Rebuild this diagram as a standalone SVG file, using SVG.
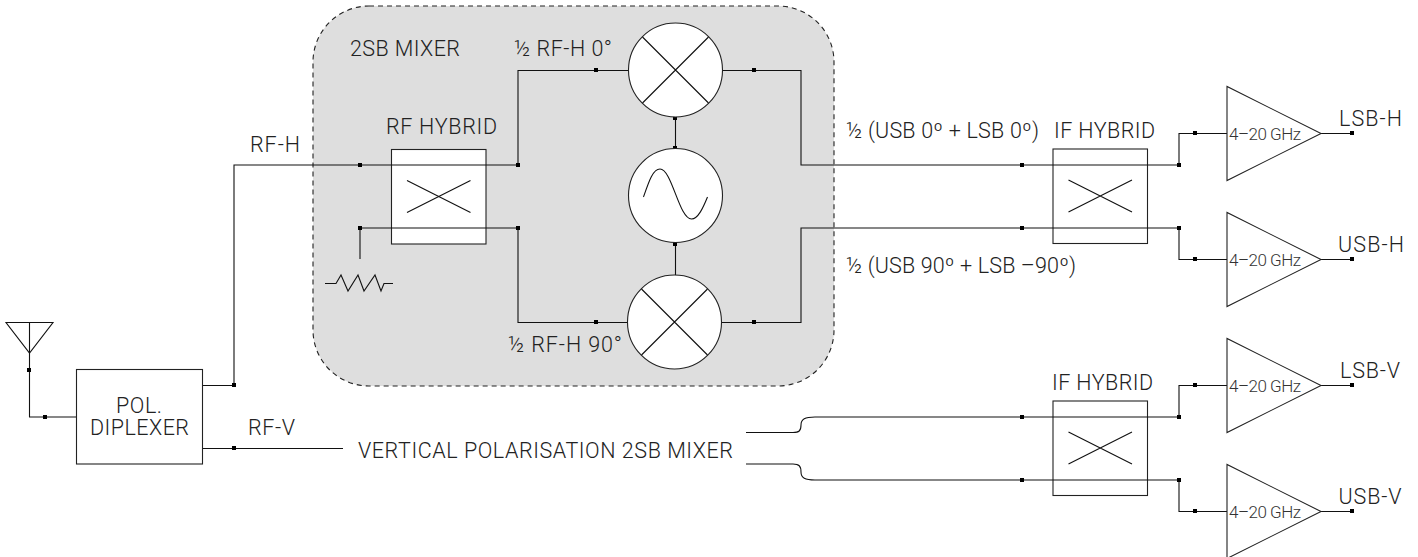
<svg xmlns="http://www.w3.org/2000/svg" width="1418" height="557" viewBox="0 0 1418 557">
<style>
.l{fill:none;stroke:#111;stroke-width:1.1}
.n{fill:#fff;stroke:#222;stroke-width:1.1}
.o{fill:none;stroke:#111;stroke-width:1.1}
.d{fill:#000}
text{font-family:Roboto,"Liberation Sans",Arial,sans-serif;font-weight:300;font-size:21.500px;fill:#222}
.s{font-size:17px;fill:#333}
</style>
<defs>
<rect id="dot" class="d" x="-2" y="-2" width="4" height="4"/>
<g id="hyb"><rect class="n" x="0" y="0" width="94.5" height="94.5"/><path class="o" d="M15.5 31 L79 63 M15.5 63 L79 31"/></g>
<g id="mix"><circle class="n" r="47"/><path class="o" d="M-33 -33 L33 33 M-33 33 L33 -33"/></g>
<g id="amp"><path class="n" d="M0 0 L0 94 L94 47 Z"/><text class="s" x="2" y="53.500" textLength="72">4–20 GHz</text></g>
</defs>
<g id="mixer-panel"><rect x="313" y="6" width="521" height="380" rx="56" ry="56" fill="#dedede" stroke="#222" stroke-width="1.1" stroke-dasharray="5 4"/></g>
<g id="rf-hybrid"><use href="#hyb" x="391.500" y="149.500"/><text x="386" y="134" textLength="111">RF HYBRID</text></g>
<g id="if-hybrid-h"><use href="#hyb" x="1053" y="149"/><text x="1054" y="138" textLength="101">IF HYBRID</text></g>
<g id="if-hybrid-v"><use href="#hyb" x="1053" y="401"/><text x="1052" y="390" textLength="101">IF HYBRID</text></g>
<g id="connectors">
<path class="l" d="M29.500 322.500 V417 H76.500"/>
<path class="l" d="M202.500 385.500 H234 V165 H518 V70.500 H628"/>
<path class="l" d="M202.500 448.500 H343"/>
<path class="l" d="M360 259 V228 H518 V322.500 H628"/>
<path class="l" d="M723 70.500 H801 V165 H1179 V133.500 H1227"/>
<path class="l" d="M721 322.500 H801 V228 H1179 V259.500 H1227"/>
<path class="l" d="M675.500 117 V149 M675.500 243 V275"/>
<path class="l" d="M746 432.500 H793 C799 432.500 801 431 801 425 C801 419 805 417 815 417 H1179 V385.500 H1227"/>
<path class="l" d="M746 464 H793 C799 464 801 466 801 472 C801 478 805 480 815 480 H1179 V511.500 H1227"/>
<path class="l" d="M1321 133.500 H1352 M1321 259.500 H1352 M1321 385.500 H1352 M1321 511.500 H1352"/>
<path class="l" d="M325 283.500 H335 L336 283.500 L341 275 L348 291 L358 275 L364 291 L375 275 L381 291 L384 283.500 H393"/>
</g>
<g id="dots">
<use href="#dot" x="29" y="370"/><use href="#dot" x="45" y="417"/><use href="#dot" x="234" y="385"/><use href="#dot" x="234" y="448"/>
<use href="#dot" x="360" y="165"/><use href="#dot" x="518" y="165"/><use href="#dot" x="360" y="228"/><use href="#dot" x="518" y="228"/>
<use href="#dot" x="596" y="70"/><use href="#dot" x="596" y="322"/><use href="#dot" x="754" y="70"/><use href="#dot" x="754" y="322"/>
<use href="#dot" x="675" y="118"/><use href="#dot" x="675" y="148"/><use href="#dot" x="675" y="244"/>
<use href="#dot" x="1022" y="165"/><use href="#dot" x="1022" y="228"/><use href="#dot" x="1179" y="165"/><use href="#dot" x="1179" y="228"/>
<use href="#dot" x="1195" y="133"/><use href="#dot" x="1195" y="259"/><use href="#dot" x="1352" y="133"/><use href="#dot" x="1352" y="259"/>
<use href="#dot" x="1022" y="417"/><use href="#dot" x="1022" y="480"/><use href="#dot" x="1179" y="417"/><use href="#dot" x="1179" y="480"/>
<use href="#dot" x="1195" y="385"/><use href="#dot" x="1195" y="511"/><use href="#dot" x="1352" y="385"/><use href="#dot" x="1352" y="511"/>
</g>
<g id="antenna"><path class="o" d="M6 322.500 H53 L29.500 353 Z"/></g>
<g id="diplexer"><rect class="n" x="76.500" y="369.500" width="126" height="94.500"/><text x="116" y="413" textLength="46">POL.</text><text x="90" y="435" textLength="99">DIPLEXER</text></g>
<g id="mixer-top"><use href="#mix" x="675.500" y="70"/></g>
<g id="mixer-bottom"><use href="#mix" x="674.500" y="322"/></g>
<g id="oscillator"><circle class="n" cx="675.500" cy="195.500" r="47"/><path class="o" d="M643.500 197 C649 181 653 169 660 169 C672 169 679 219 691.500 219 C698 219 703 208 707.500 197"/></g>
<g id="amp-lsb-h"><use href="#amp" x="1227" y="86.500"/><text x="1339" y="126" textLength="63">LSB-H</text></g>
<g id="amp-usb-h"><use href="#amp" x="1227" y="212.500"/><text x="1338" y="252" textLength="66">USB-H</text></g>
<g id="amp-lsb-v"><use href="#amp" x="1227" y="338.500"/><text x="1340" y="378" textLength="60">LSB-V</text></g>
<g id="amp-usb-v"><use href="#amp" x="1227" y="464.500"/><text x="1338.500" y="504" textLength="63">USB-V</text></g>
<g id="labels">
<text x="250" y="152" textLength="50">RF-H</text>
<text x="248" y="435" textLength="47">RF-V</text>
<text x="358" y="458" textLength="375">VERTICAL POLARISATION 2SB MIXER</text>
<text x="350" y="56" textLength="110">2SB MIXER</text>
<text x="514" y="56" textLength="98">½ RF-H 0°</text>
<text x="508" y="352" textLength="114">½ RF-H 90°</text>
<text x="846" y="138" textLength="193">½ (USB 0º + LSB 0º)</text>
<text x="846" y="273" textLength="230">½ (USB 90º + LSB –90º)</text>
</g>
</svg>
